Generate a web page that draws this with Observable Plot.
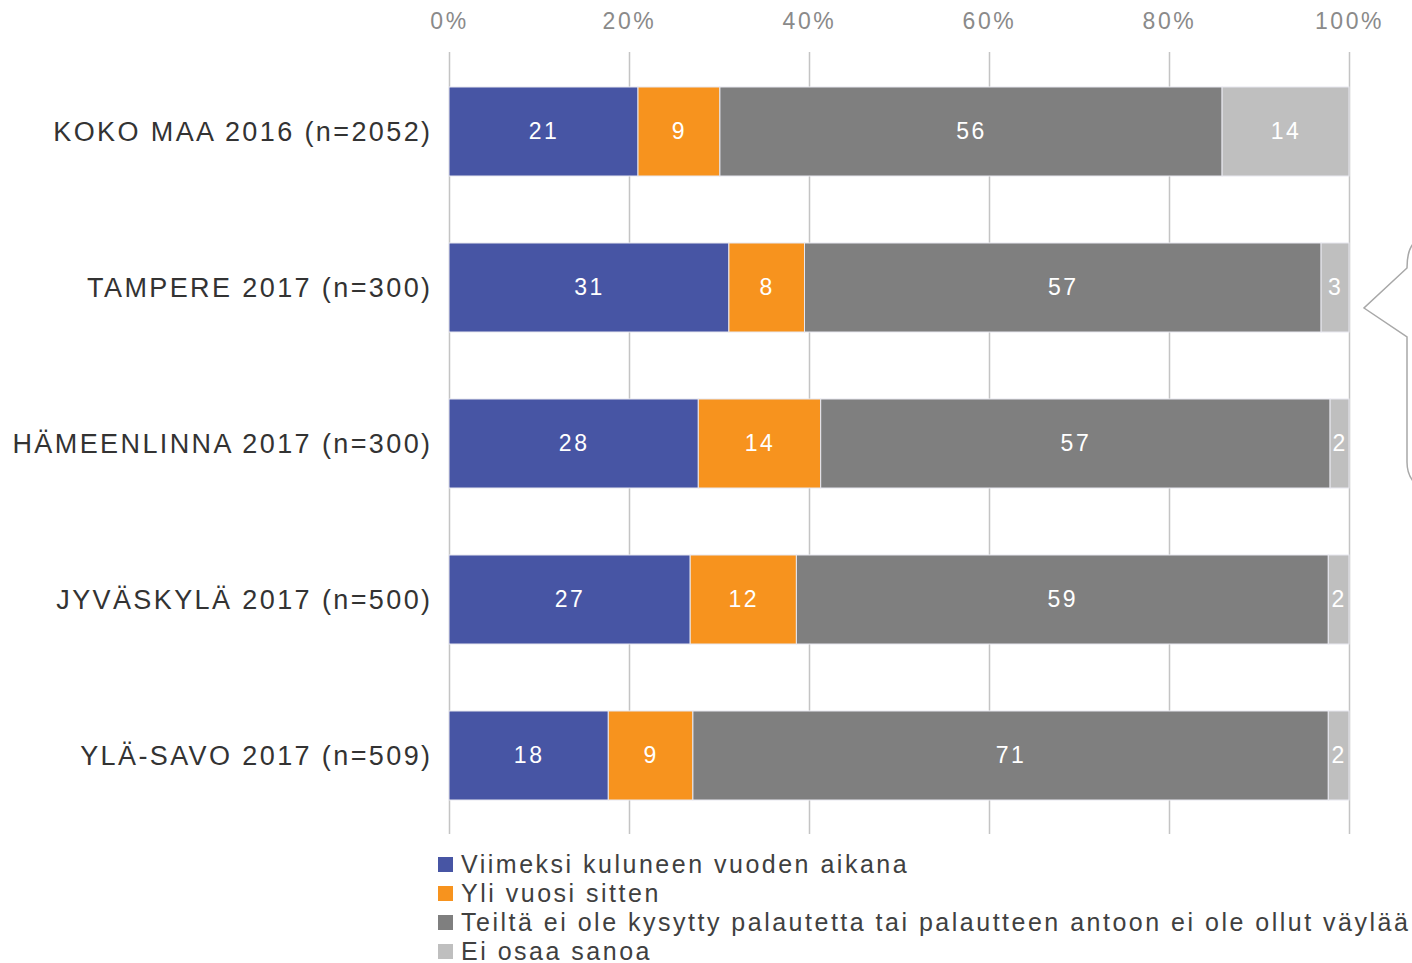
<!DOCTYPE html>
<html>
<head>
<meta charset="utf-8">
<script src="https://cdn.jsdelivr.net/npm/d3@7"></script>
<script src="https://cdn.jsdelivr.net/npm/@observablehq/plot@0.6"></script>
<style>
  html, body { margin: 0; padding: 0; background: #fff; }
  body { width: 1412px; height: 963px; overflow: hidden; font-family: "Liberation Sans", Arial, sans-serif; }
  #chart svg { display: block; font-family: "Liberation Sans", Arial, sans-serif; }
  g[aria-label="y-axis tick label"] text { letter-spacing: 2.4px; }
  g[aria-label="x-axis tick label"] text { letter-spacing: 2.6px; }
  .vlabel text { letter-spacing: 2.5px; }
  #legend { padding-left: 438px; margin-top: 5px; }
  .item { display: flex; align-items: center; height: 29px; font-size: 25px; color: #404040; letter-spacing: 2.5px; white-space: nowrap; }
  .sw { width: 15px; height: 15px; margin-right: 8px; flex: none; }
</style>
</head>
<body>
<div id="chart"></div>
<div id="legend"></div>
<script>
const categories = ["KOKO MAA 2016 (n=2052)", "TAMPERE 2017 (n=300)", "HÄMEENLINNA 2017 (n=300)", "JYVÄSKYLÄ 2017 (n=500)", "YLÄ-SAVO 2017 (n=509)"];
const seriesNames = ["Viimeksi kuluneen vuoden aikana", "Yli vuosi sitten", "Teiltä ei ole kysytty palautetta tai palautteen antoon ei ole ollut väylää", "Ei osaa sanoa"];
const seriesColors = ["#4755A4", "#F7931E", "#7F7F7F", "#BFBFBF"];
const recentYear = [21.0, 31.1, 27.7, 26.8, 17.7];
const overYearAgo = [9.1, 8.4, 13.6, 11.8, 9.4];
const notAsked = [55.8, 57.4, 56.6, 59.1, 70.6];
const dontKnow = [14.1, 3.1, 2.1, 2.3, 2.3];
const xTicks = [0, 20, 40, 60, 80, 100];

const seriesValues = [recentYear, overYearAgo, notAsked, dontKnow];
const rows = [];
seriesValues.forEach((vals, si) => {
  vals.forEach((v, ci) => rows.push({category: categories[ci], series: seriesNames[si], value: v}));
});

const chart = Plot.plot({
  width: 1412,
  height: 845,
  marginTop: 52,
  marginBottom: 11,
  marginLeft: 449,
  marginRight: 63,
  style: {fontFamily: '"Liberation Sans", Arial, sans-serif', background: "#fff"},
  x: {domain: [0, 100]},
  y: {domain: categories, paddingInner: 0.43, paddingOuter: 0.215},
  color: {domain: seriesNames, range: seriesColors},
  marks: [
    Plot.gridX(xTicks, {stroke: "#c4c4c4", strokeOpacity: 1, strokeWidth: 1.5}),
    Plot.axisX({anchor: "top", ticks: xTicks, tickSize: 0, tickPadding: 24, tickFormat: d => d + "%", fontSize: 23, fill: "#8a8a8a", label: null}),
    Plot.axisY({tickSize: 0, tickPadding: 17, fontSize: 27, fill: "#333", label: null}),
    Plot.barX(rows, Plot.stackX({y: "category", x: "value", fill: "series", stroke: "#e8e8f0", strokeWidth: 1})),
    Plot.text(rows, Plot.stackX({y: "category", x: "value", text: d => Math.round(d.value), fill: "#fff", fontSize: 23, className: "vlabel"}))
  ]
});
document.getElementById("chart").appendChild(chart);

// decorative brace on the right edge
d3.select(chart).append("path")
  .attr("d", "M1413,244 C1408,250 1407,258 1407,268 L1364,308 L1407,337 L1407,462 C1407,470 1409,476 1413,481")
  .attr("fill", "none").attr("stroke", "#a8a8a8").attr("stroke-width", 1.5);

const legend = d3.select("#legend");
seriesNames.forEach((name, i) => {
  const it = legend.append("div").attr("class", "item");
  it.append("div").attr("class", "sw").style("background", seriesColors[i]);
  it.append("span").text(name);
});
</script>
</body>
</html>
